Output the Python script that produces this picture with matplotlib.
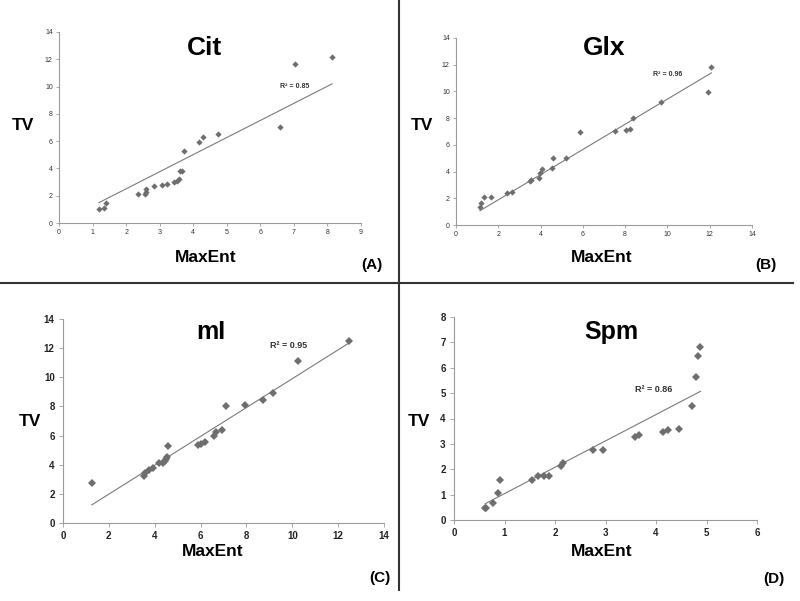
import numpy as np
import matplotlib
matplotlib.use("Agg")
import matplotlib.pyplot as plt
from matplotlib.lines import Line2D

plt.rcParams['font.family'] = ['Liberation Sans', 'DejaVu Sans']

# ---- data ----
cit_x = [1.19, 1.34, 1.40, 2.36, 2.56, 2.58, 2.60, 2.84, 3.08, 3.21, 3.44, 3.51, 3.57, 3.62, 3.66,
         3.73, 4.17, 4.30, 4.73, 6.60, 7.04, 8.14]
cit_y = [1.00, 1.10, 1.44, 2.13, 2.15, 2.25, 2.47, 2.74, 2.76, 2.86, 3.00, 3.10, 3.22, 3.79, 3.81,
         5.30, 5.94, 6.28, 6.50, 7.06, 11.65, 12.14]

glx_x = [1.13, 1.18, 1.32, 1.65, 2.39, 2.63, 3.50, 3.54, 3.91, 3.95, 4.09, 4.54, 4.61, 5.20,
         5.86, 7.51, 8.02, 8.22, 8.39, 9.69, 11.92, 12.08]
glx_y = [1.32, 1.67, 2.06, 2.11, 2.41, 2.49, 3.33, 3.36, 3.53, 3.90, 4.18, 4.25, 5.00, 5.05,
         6.94, 7.04, 7.11, 7.21, 7.98, 9.18, 9.95, 11.86]

mi_x = [1.26, 3.53, 3.56, 3.74, 3.94, 4.20, 4.36, 4.45, 4.51, 4.54, 4.59, 5.89, 6.02, 6.21,
        6.59, 6.67, 6.92, 7.12, 7.95, 8.71, 9.16, 10.25, 12.46]
mi_y = [2.72, 3.22, 3.43, 3.65, 3.75, 4.09, 4.11, 4.25, 4.38, 4.54, 5.30, 5.37, 5.39, 5.59,
        5.94, 6.23, 6.39, 8.06, 8.08, 8.47, 8.95, 11.12, 12.49]

spm_x = [0.62, 0.64, 0.77, 0.87, 0.91, 1.55, 1.66, 1.79, 1.89, 2.12, 2.16, 2.76, 2.96, 3.58,
         3.67, 4.13, 4.24, 4.46, 4.72, 4.79, 4.84, 4.88]
spm_y = [0.47, 0.46, 0.67, 1.06, 1.56, 1.57, 1.73, 1.74, 1.74, 2.11, 2.24, 2.77, 2.77, 3.26,
         3.36, 3.47, 3.55, 3.57, 4.50, 5.64, 6.47, 6.82]

titles = ["Cit", "Glx", "mI", "Spm"]
panel_labels = ["(A)", "(B)", "(C)", "(D)"]
r2_labels = ["R² = 0.85", "R² = 0.96", "R² = 0.95", "R² = 0.86"]
xmax = [9, 14, 14, 6]
ymax = [14, 14, 14, 8]

fig = plt.figure(figsize=(8.0, 6.01), dpi=100)
W, H = 800.0, 601.0

def fx(px):
    return px / W

def fy(py):
    return 1 - py / H

# axes boxes in pixels: left, right, top, bottom
boxes = [(59, 361, 32, 223), (456, 752, 38, 225), (63, 384, 319, 523), (454, 757, 317, 520)]
title_pos = [(205, 48), (604, 48), (211, 332), (611, 332)]
tv_pos = [(23, 126), (422, 125), (30, 421), (419, 421)]
maxent_pos = [(206, 257), (602, 257), (213, 552), (602, 552)]
plabel_pos = [(372, 265), (766, 265), (380, 578), (774, 579)]
r2_pos = [(295, 86), (668, 74), (289, 346), (654, 390)]

datasets = [(cit_x, cit_y), (glx_x, glx_y), (mi_x, mi_y), (spm_x, spm_y)]
small = [True, True, False, False]

for i, (xs, ys) in enumerate(datasets):
    l, r, t, b = boxes[i]
    ax = fig.add_axes([fx(l), fy(b), (r - l) / W, (b - t) / H])
    xs = np.array(xs); ys = np.array(ys)
    ms = 3.2 if small[i] else 4.3
    ax.plot(xs, ys, linestyle='none', marker='D', markersize=ms, color='#6e6e6e',
            markeredgewidth=0, zorder=3)
    # linear trendline through the origin
    k = np.sum(xs * ys) / np.sum(xs * xs)
    xl = np.array([xs.min(), xs.max()])
    ax.plot(xl, k * xl, color='#7a7a7a', linewidth=0.8, zorder=2)
    ax.set_xlim(0, xmax[i])
    ax.set_ylim(0, ymax[i])
    step_x = 1 if xmax[i] <= 9 else 2
    ax.set_xticks(np.arange(0, xmax[i] + 0.1, step_x))
    ax.set_yticks(np.arange(0, ymax[i] + 0.1, 2 if ymax[i] > 8 else 1))
    for s in ['top', 'right']:
        ax.spines[s].set_visible(False)
    for s in ['left', 'bottom']:
        ax.spines[s].set_color('#9a9a9a')
        ax.spines[s].set_linewidth(0.8)
    if small[i]:
        ax.tick_params(labelsize=5, colors='#9a9a9a', labelcolor='#333333', length=2.5, width=0.6, pad=2)
    else:
        ax.tick_params(labelsize=7, colors='#9a9a9a', labelcolor='#222222', length=3, width=0.6, pad=3)
        for lab in ax.get_xticklabels() + ax.get_yticklabels():
            lab.set_fontweight('bold')
    ax.patch.set_alpha(0)

    tsize = 19 if small[i] else 18
    fig.text(fx(title_pos[i][0]), fy(title_pos[i][1]), titles[i], fontsize=tsize,
             fontweight='bold', ha='center', va='center')
    fig.text(fx(tv_pos[i][0]), fy(tv_pos[i][1]), "TV", fontsize=12.5,
             fontweight='bold', ha='center', va='center')
    fig.text(fx(maxent_pos[i][0]), fy(maxent_pos[i][1]), "MaxEnt", fontsize=12.5,
             fontweight='bold', ha='center', va='center')
    fig.text(fx(plabel_pos[i][0]), fy(plabel_pos[i][1]), panel_labels[i], fontsize=11,
             fontweight='bold', ha='center', va='center')
    fig.text(fx(r2_pos[i][0]), fy(r2_pos[i][1]), r2_labels[i],
             fontsize=5 if small[i] else 6.5, fontweight='bold', color='#333333',
             ha='center', va='center')

# divider lines
fig.add_artist(Line2D([fx(399), fx(399)], [fy(0), fy(590)], color='#333333', linewidth=1.5))
fig.add_artist(Line2D([fx(0), fx(793)], [fy(283), fy(283)], color='#333333', linewidth=1.5))

fig.savefig("out.png", dpi=100)
